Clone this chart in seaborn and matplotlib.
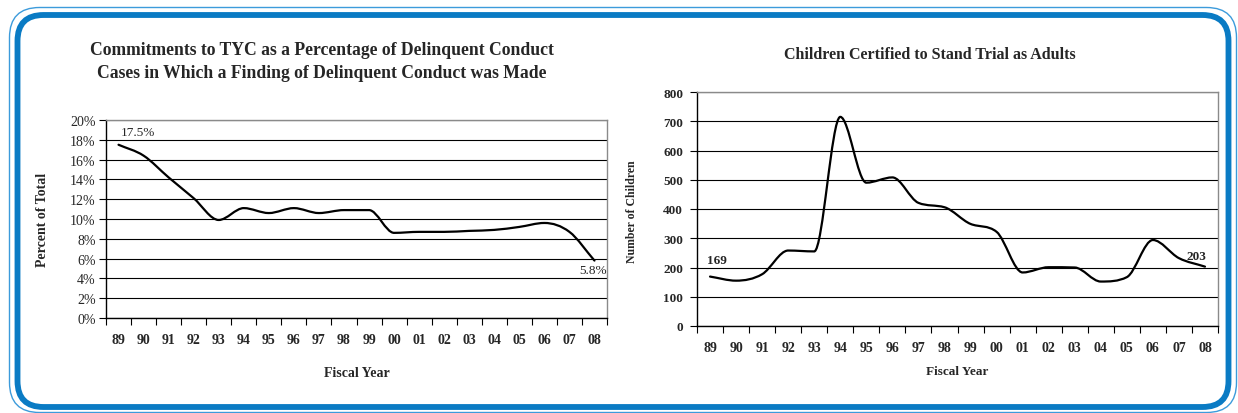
import numpy as np
import matplotlib
matplotlib.use("Agg")
import matplotlib.pyplot as plt
from matplotlib.path import Path
from matplotlib.patches import PathPatch, FancyBboxPatch
from matplotlib.transforms import IdentityTransform
from matplotlib.ticker import FuncFormatter
import seaborn as sns

# Fiscal years shown on both panels
fiscal_years = ["89", "90", "91", "92", "93", "94", "95", "96", "97", "98",
                "99", "00", "01", "02", "03", "04", "05", "06", "07", "08"]

# Commitments to TYC as a percentage of delinquent conduct findings
pct_committed = [17.5, 16.4, 14.2, 12.1, 9.9, 11.1, 10.6, 11.1, 10.6, 10.9,
                 10.9, 8.6, 8.7, 8.7, 8.8, 8.9, 9.2, 9.6, 8.7, 5.8]

# Children certified to stand trial as adults
children_certified = [169, 155, 177, 258, 255, 715, 490, 508, 421, 406,
                      349, 322, 183, 201, 200, 152, 167, 294, 232, 203]

sns.set_theme(style="white")
plt.rcParams["font.family"] = ["Liberation Serif", "DejaVu Serif"]

W, H = 1238, 414
fig = plt.figure(figsize=(W / 100, H / 100), dpi=100)
fig.patch.set_facecolor("white")

BLUE = "#0A7BC4"
LIGHT_BLUE = "#3C9BDB"
GRID_GRAY = "#8a8a8a"


def px_axes(left, top, right, bottom):
    return fig.add_axes([left / W, 1 - bottom / H, (right - left) / W, (bottom - top) / H])


def smooth_path(xy):
    """Cubic Bezier through every data point: Catmull-Rom slopes,
    flattened at turning points and limited to avoid overshoot."""
    pts = np.asarray(xy, dtype=float)
    x, y = pts[:, 0], pts[:, 1]
    h = np.diff(x)
    d = np.diff(y) / h
    m = np.zeros_like(y)
    m[0], m[-1] = d[0], d[-1]
    for i in range(1, len(y) - 1):
        if d[i - 1] * d[i] > 0:
            m[i] = 0.5 * (d[i - 1] + d[i])
    for i in range(len(d)):
        if d[i] == 0:
            m[i] = m[i + 1] = 0.0
            continue
        a, b = m[i] / d[i], m[i + 1] / d[i]
        s = a * a + b * b
        if s > 9:
            t = 3.0 / np.sqrt(s)
            m[i], m[i + 1] = t * a * d[i], t * b * d[i]
    verts = [pts[0]]
    codes = [Path.MOVETO]
    for i in range(len(pts) - 1):
        c1 = (x[i] + h[i] / 3.0, y[i] + m[i] * h[i] / 3.0)
        c2 = (x[i + 1] - h[i] / 3.0, y[i + 1] - m[i + 1] * h[i] / 3.0)
        verts += [c1, c2, pts[i + 1]]
        codes += [Path.CURVE4] * 3
    return Path(verts, codes)


def draw_panel(ax, values, ymax, ystep, yfmt, ytick_weight, ytick_size, ypad):
    n = len(fiscal_years)
    x = np.arange(n)
    sns.lineplot(x=x, y=values, ax=ax, color="black", linewidth=1.6)
    line = ax.lines[-1]
    ax.add_patch(PathPatch(smooth_path(line.get_xydata()), fill=False,
                           edgecolor="black", linewidth=1.6, capstyle="round",
                           joinstyle="round", zorder=3))
    line.set_visible(False)

    ax.set_xlim(-0.5, n - 0.5)
    ax.set_ylim(0, ymax)
    ax.set_xticks(x)
    ax.set_xticklabels(fiscal_years, fontsize=10, fontweight="bold")
    ax.set_xticks(np.arange(n + 1) - 0.5, minor=True)
    ax.tick_params(axis="x", which="major", bottom=True, length=0, pad=11)
    ax.tick_params(axis="x", which="minor", bottom=True, length=5, width=0.8,
                   direction="out", color="black")
    ax.set_yticks(np.arange(0, ymax + ystep / 2, ystep))
    ax.yaxis.set_major_formatter(FuncFormatter(yfmt))
    ax.tick_params(axis="y", which="major", left=True, length=5, width=0.8,
                   direction="out", color="black", pad=ypad, labelsize=ytick_size)
    for lbl in ax.get_yticklabels():
        lbl.set_fontweight(ytick_weight)
    ax.set_axisbelow(True)
    ax.yaxis.grid(True, color="black", linewidth=0.8)
    ax.xaxis.grid(False)
    for side in ("left", "bottom"):
        ax.spines[side].set_color("black")
        ax.spines[side].set_linewidth(1.0)
    for side in ("top", "right"):
        ax.spines[side].set_color(GRID_GRAY)
        ax.spines[side].set_linewidth(1.0)
    ax.set_xlabel("")
    ax.set_ylabel("")
    ax.set_facecolor("white")


# Left panel: percent of total
ax1 = px_axes(106, 121, 607, 319)
draw_panel(ax1, pct_committed, 20, 2, lambda v, _: f"{v:.0f}%", "normal", 10, 2.5)
ax1.annotate(f"{pct_committed[0]}%", xy=(0, pct_committed[0]), xytext=(2, 13),
             textcoords="offset pixels", ha="left", va="center", fontsize=9.5)
ax1.annotate(f"{pct_committed[-1]}%", xy=(len(fiscal_years) - 1, pct_committed[-1]),
             xytext=(-1, -9), textcoords="offset pixels", ha="center", va="center",
             fontsize=9.5)

# Right panel: number of children
ax2 = px_axes(697, 93, 1218, 327)
draw_panel(ax2, children_certified, 800, 100, lambda v, _: f"{v:.0f}", "bold", 9.5, 5)
ax2.annotate(f"{children_certified[0]}", xy=(0, children_certified[0]), xytext=(7, 17),
             textcoords="offset pixels", ha="center", va="center", fontsize=9.5,
             fontweight="bold")
ax2.annotate(f"{children_certified[-1]}", xy=(len(fiscal_years) - 1, children_certified[-1]),
             xytext=(-9, 11), textcoords="offset pixels", ha="center", va="center",
             fontsize=9.5, fontweight="bold")

# Titles and axis labels
fig.text(322 / W, 1 - 62 / H,
         "Commitments to TYC as a Percentage of Delinquent Conduct\n"
         "Cases in Which a Finding of Delinquent Conduct was Made",
         ha="center", va="center", fontsize=12.7, fontweight="bold", linespacing=1.42)
fig.text(930 / W, 1 - 55 / H, "Children Certified to Stand Trial as Adults",
         ha="center", va="center", fontsize=11.5, fontweight="bold")
fig.text(356.5 / W, 1 - 374 / H, "Fiscal Year", ha="center", va="center",
         fontsize=10, fontweight="bold")
fig.text(957.5 / W, 1 - 372 / H, "Fiscal Year", ha="center", va="center",
         fontsize=9.5, fontweight="bold")
fig.text(42 / W, 1 - 220 / H, "Percent of Total", ha="center", va="center",
         rotation=90, fontsize=10, fontweight="bold")
fig.text(632 / W, 1 - 212 / H, "Number of Children", ha="center", va="center",
         rotation=90, fontsize=8.5, fontweight="bold")

# Rounded frame around both panels (thin outer rule, thick inner rule)
outer = FancyBboxPatch((9.5, 0.5), 1227, 405, boxstyle="round,pad=0,rounding_size=30",
                       transform=IdentityTransform(), fill=False,
                       edgecolor=LIGHT_BLUE, linewidth=1.0)
inner = FancyBboxPatch((17.5, 6), 1211, 392, boxstyle="round,pad=0,rounding_size=26",
                       transform=IdentityTransform(), fill=False,
                       edgecolor=BLUE, linewidth=4.2)
fig.add_artist(outer)
fig.add_artist(inner)

fig.savefig("out.png", dpi=100, facecolor="white")
